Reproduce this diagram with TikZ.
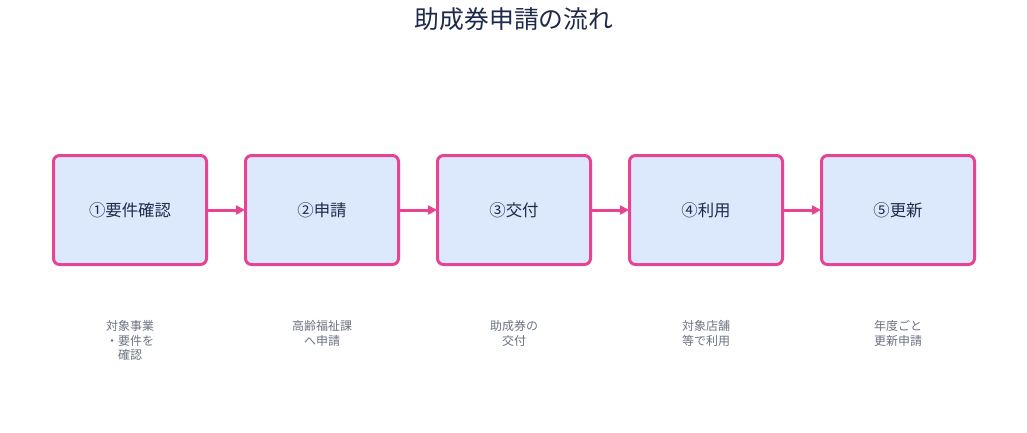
\documentclass[tikz,border=0pt]{standalone}
\usepackage{fontspec}
\setmainfont{Noto Sans CJK JP}
\usetikzlibrary{arrows.meta}
\definecolor{pinkc}{HTML}{E84393}
\definecolor{boxfill}{HTML}{DCE8FC}
\definecolor{titlec}{HTML}{1F2A4A}
\definecolor{subc}{HTML}{6B7280}
\tikzset{
  stepbox/.style={draw=pinkc, line width=3pt, fill=boxfill, rounded corners=6pt,
    minimum width=153pt, minimum height=109pt, inner sep=0pt,
    font=\fontsize{16.4pt}{19pt}\selectfont, text=titlec},
  sublabel/.style={font=\fontsize{12pt}{14.8pt}\selectfont, text=subc, align=center},
  conn/.style={draw=pinkc, line width=3pt, -{Triangle[length=9pt,width=9pt]}, shorten >=-1pt},
}
\begin{document}
\begin{tikzpicture}[x=1pt,y=-1pt]
\useasboundingbox (0,0) rectangle (1027,432);
\node[font=\fontsize{24.8pt}{28pt}\selectfont, text=titlec] (title) at (514,19) {助成券申請の流れ};
\node[stepbox] (s1) at (130,210) {①要件確認};
\node[stepbox] (s2) at (322,210) {②申請};
\node[stepbox] (s3) at (514,210) {③交付};
\node[stepbox] (s4) at (706,210) {④利用};
\node[stepbox] (s5) at (898,210) {⑤更新};
\draw[conn] (s1.east) -- (s2.west);
\draw[conn] (s2.east) -- (s3.west);
\draw[conn] (s3.east) -- (s4.west);
\draw[conn] (s4.east) -- (s5.west);
\node[sublabel] (l1) at (130,340.5) {対象事業\\・要件を\\確認};
\node[sublabel] (l2) at (322,333.5) {高齢福祉課\\へ申請};
\node[sublabel] (l3) at (514,333.5) {助成券の\\交付};
\node[sublabel] (l4) at (706,333.5) {対象店舗\\等で利用};
\node[sublabel] (l5) at (898,333.5) {年度ごと\\更新申請};
\end{tikzpicture}
\end{document}
